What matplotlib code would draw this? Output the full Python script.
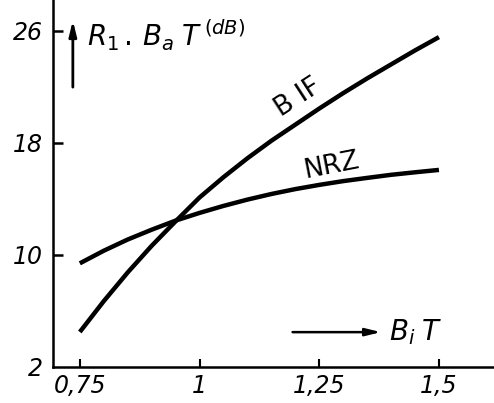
import matplotlib
matplotlib.use("Agg")
import matplotlib.pyplot as plt

plt.rcParams['font.family'] = ['DejaVu Sans']
plt.rcParams['mathtext.fontset'] = 'dejavusans'

# Data
x_bif = [0.75, 0.80, 0.85, 0.90, 0.95, 1.00, 1.05, 1.10, 1.15, 1.20, 1.25, 1.30, 1.35, 1.40, 1.45, 1.50]
y_bif = [4.5, 6.7, 8.75, 10.65, 12.4, 14.1, 15.55, 16.9, 18.15, 19.3, 20.45, 21.55, 22.6, 23.6, 24.6, 25.55]
x_nrz = [0.75, 0.80, 0.85, 0.90, 0.95, 1.00, 1.05, 1.10, 1.15, 1.20, 1.25, 1.30, 1.35, 1.40, 1.45, 1.50]
y_nrz = [9.4, 10.3, 11.1, 11.8, 12.45, 13.0, 13.5, 13.95, 14.35, 14.7, 15.0, 15.27, 15.5, 15.72, 15.9, 16.07]
xticks = [0.75, 1.0, 1.25, 1.5]
xtick_labels = ["0,75", "1", "1,25", "1,5"]
yticks = [2, 10, 18, 26]
ytick_labels = ["2", "10", "18", "26"]

fig = plt.figure(figsize=(4.94, 4.03), dpi=100)
ax = fig.add_axes([53/494, 36/403, 441/494, 367/403])

ax.plot(x_bif, y_bif, color='black', lw=3.2, solid_capstyle='butt', solid_joinstyle='round')
ax.plot(x_nrz, y_nrz, color='black', lw=3.2, solid_capstyle='butt', solid_joinstyle='round')

ax.set_xlim(0.694, 1.615)
ax.set_ylim(2, 28.2)

for s in ['top', 'right']:
    ax.spines[s].set_visible(False)
for s in ['left', 'bottom']:
    ax.spines[s].set_linewidth(1.8)

ax.set_xticks(xticks)
ax.set_xticklabels(xtick_labels, fontsize=17, style='italic')
ax.set_yticks(yticks)
ax.set_yticklabels(ytick_labels, fontsize=17, style='italic')
ax.tick_params(axis='y', direction='in', length=7.5, width=1.8, pad=7)
ax.tick_params(axis='x', direction='in', length=6, width=1.5, pad=5)
for lab in ax.get_xticklabels():
    lab.set_x(lab.get_position()[0])
# hide tick mark at 2 on y (axis corner)
ax.yaxis.get_major_ticks()[0].tick1line.set_visible(False)

# curve labels
ax.text(1.205, 21.2, "B IF", fontsize=19, rotation=33, ha='center', va='center')
ax.text(1.276, 16.4, "NRZ", fontsize=19, rotation=11, ha='center', va='center')

# y-axis label with arrow
ax.annotate("", xy=(0.045, 0.952), xytext=(0.045, 0.755), xycoords='axes fraction',
            arrowprops=dict(arrowstyle='-|>,head_length=0.9,head_width=0.22', color='black', lw=2))
ax.text(0.078, 0.905, r"$R_{\mathit{1}}\,.\,B_a\;T^{\,(dB)}$", transform=ax.transAxes,
        fontsize=20, ha='left', va='center')

# x-axis label with arrow
ax.annotate("", xy=(0.75, 0.095), xytext=(0.537, 0.095), xycoords='axes fraction',
            arrowprops=dict(arrowstyle='-|>,head_length=0.9,head_width=0.22', color='black', lw=1.8))
ax.text(0.762, 0.095, r"$B_i\;T$", transform=ax.transAxes, fontsize=20, ha='left', va='center')

fig.savefig("out.png", dpi=100)
